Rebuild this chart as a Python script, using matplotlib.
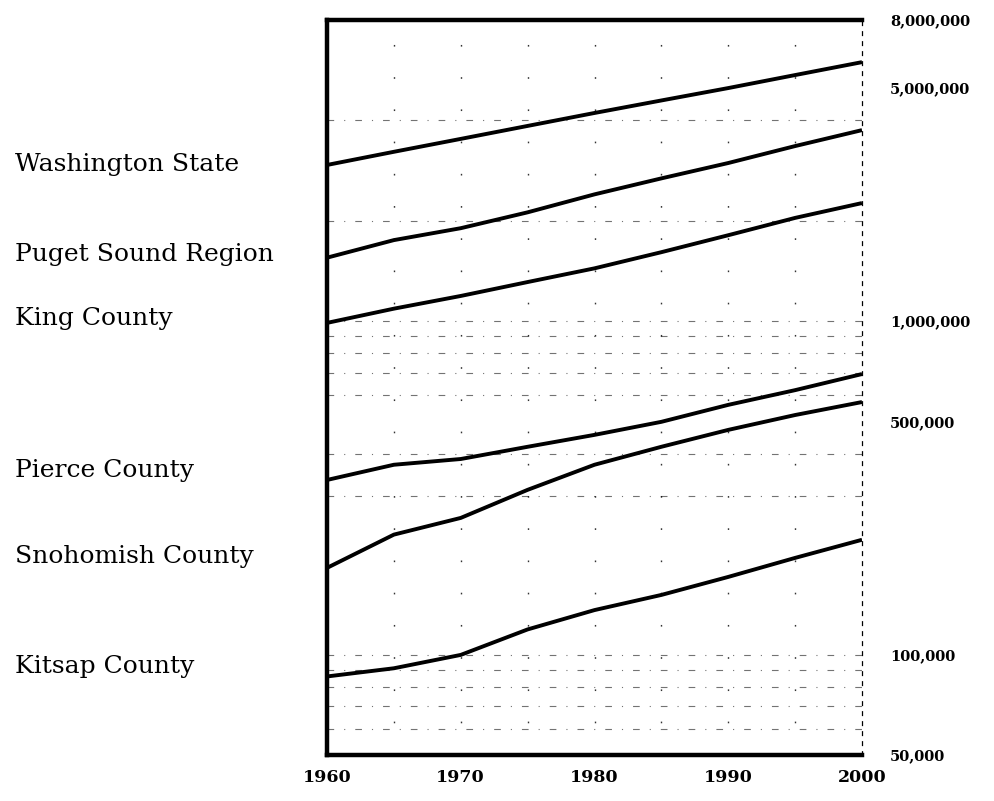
import matplotlib.pyplot as plt
from matplotlib.ticker import FixedLocator, NullLocator

# data (population, log scale)
years = [1960, 1965, 1970, 1975, 1980, 1985, 1990, 1995, 2000]
washington = [2940000, 3220000, 3520000, 3850000, 4210000, 4590000, 5000000, 5470000, 5980000]
puget = [1550000, 1750000, 1900000, 2120000, 2400000, 2680000, 2980000, 3350000, 3740000]
king = [988000, 1090000, 1190000, 1310000, 1440000, 1610000, 1810000, 2040000, 2260000]
pierce = [334000, 371000, 386000, 420000, 456000, 499000, 561000, 621000, 694000]
snohomish = [182000, 229000, 257000, 312000, 371000, 420000, 472000, 523000, 572000]
kitsap = [86000, 91000, 99800, 119000, 136000, 151000, 171000, 195000, 221000]

names = ["Washington State", "Puget Sound Region", "King County",
         "Pierce County", "Snohomish County", "Kitsap County"]
label_y = [165, 255, 318, 470, 556, 667]   # pixel rows of the side labels

ytick_vals = [50000, 100000, 500000, 1000000, 5000000, 8000000]
ytick_labels = ["50,000", "100,000", "500,000", "1,000,000", "5,000,000", "8,000,000"]
xtick_vals = [1960, 1970, 1980, 1990, 2000]
grid_years = [1965, 1970, 1975, 1980, 1985, 1990, 1995]
grid_vals = [60000, 70000, 80000, 90000, 100000, 300000, 400000,
             600000, 700000, 800000, 900000, 1000000, 2000000, 4000000]

W, H = 994, 801
fig = plt.figure(figsize=(W / 100, H / 100), dpi=100)
ax = fig.add_axes([327 / W, 1 - 755 / H, (862 - 327) / W, (755 - 20) / H])

ax.set_yscale("log")
ax.set_xlim(1960, 2000)
ax.set_ylim(50000, 8000000)

# faint scanned-looking grid
for yr in grid_years:
    ax.axvline(yr, color="black", lw=1.0, linestyle=(0, (1.2, 22)), alpha=0.8, zorder=1)
for v in grid_vals:
    ax.axhline(v, color="black", lw=0.8, linestyle=(0, (6, 9, 1, 9)), alpha=0.55, zorder=1)

for series in [washington, puget, king, pierce, snohomish, kitsap]:
    ax.plot(years, series, color="black", lw=2.8, solid_capstyle="butt", zorder=3)

for sp in ["left", "top", "bottom"]:
    ax.spines[sp].set_linewidth(3.2)
ax.spines["right"].set_linewidth(0.9)
ax.spines["right"].set_linestyle((0, (3, 5)))

ax.yaxis.tick_right()
ax.yaxis.set_major_locator(FixedLocator(ytick_vals))
ax.yaxis.set_minor_locator(NullLocator())
ax.set_yticklabels(ytick_labels, family="DejaVu Serif", fontweight="bold", fontsize=10.5)
ax.set_xticks(xtick_vals)
ax.set_xticklabels([str(x) for x in xtick_vals], family="DejaVu Serif",
                   fontweight="bold", fontsize=12.5)
ax.tick_params(axis="both", length=0)
ax.tick_params(axis="y", pad=20)
ax.tick_params(axis="x", pad=10)

for name, py in zip(names, label_y):
    fig.text(15 / W, 1 - py / H, name, family="DejaVu Serif", fontsize=18,
             ha="left", va="center")

fig.savefig("out.png", dpi=100)
